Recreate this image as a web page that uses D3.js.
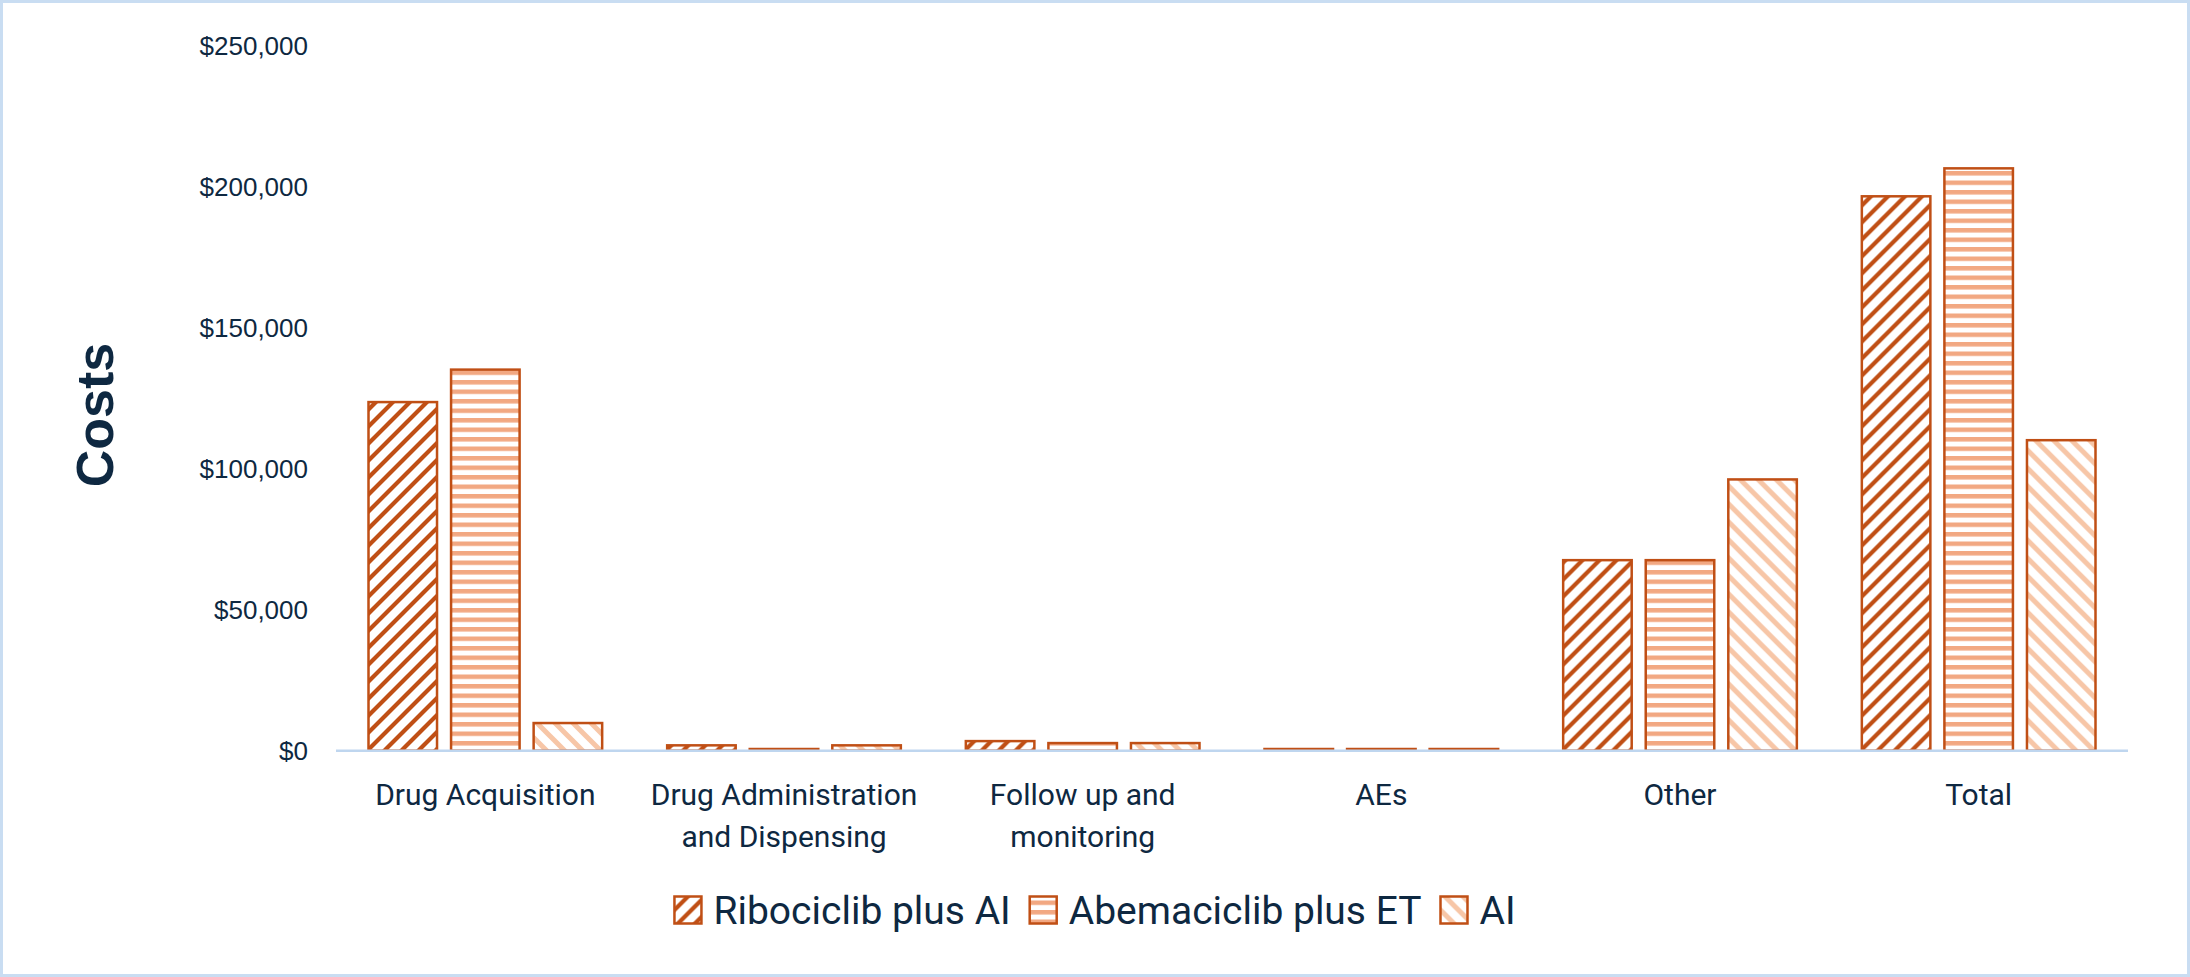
<!DOCTYPE html>
<html>
<head>
<meta charset="utf-8">
<script src="https://cdn.jsdelivr.net/npm/d3@7"></script>
<style>
  body { margin: 0; background: #fff; }
  .tick-y text { font-family: "Liberation Sans", Arial, sans-serif; font-size: 26px; fill: #0E2841; }
  .tick-x text { font-family: Roboto, sans-serif; font-size: 30px; fill: #0E2841; }
  .legend text { font-family: Roboto, sans-serif; font-size: 39px; fill: #0E2841; }
</style>
</head>
<body>
<div id="chart"></div>
<script>
// data
var categories = ["Drug Acquisition", "Drug Administration and Dispensing", "Follow up and monitoring", "AEs", "Other", "Total"];
var series = ["Ribociclib plus AI", "Abemaciclib plus ET", "AI"];
var ribociclibAI = [123500, 1900, 3400, 600, 67500, 196400];
var abemaciclibET = [135000, 600, 2700, 600, 67500, 206300];
var aiOnly = [9800, 1900, 2700, 600, 96100, 110000];
var yTicks = [0, 50000, 100000, 150000, 200000, 250000];

var values = [ribociclibAI, abemaciclibET, aiOnly];

/*
 * layout
 */
var width = 2190;
var height = 977;
var plot = { left: 336, right: 2128, top: 45, bottom: 750.7 };
var barStroke = "#C04F15";
var textColor = "#0E2841";

var svg = d3.select("#chart").append("svg")
  .attr("width", width)
  .attr("height", height);

// excel-like fill patterns
var defs = svg.append("defs");
var ribo = defs.append("pattern").attr("id", "pat-0")
  .attr("patternUnits", "userSpaceOnUse").attr("width", 17).attr("height", 17);
ribo.append("rect").attr("width", 17).attr("height", 17).attr("fill", "#fff");
ribo.append("path").attr("d", "M-4.25,4.25L4.25,-4.25M0,17L17,0M12.75,21.25L21.25,12.75")
  .attr("stroke", "#C04F15").attr("stroke-width", 4.2);

var abema = defs.append("pattern").attr("id", "pat-1")
  .attr("patternUnits", "userSpaceOnUse").attr("width", 10).attr("height", 9.5);
abema.append("rect").attr("width", 10).attr("height", 9.5).attr("fill", "#fff");
abema.append("rect").attr("width", 10).attr("height", 4.5).attr("fill", "#F2A882");

var ai = defs.append("pattern").attr("id", "pat-2")
  .attr("patternUnits", "userSpaceOnUse").attr("width", 18).attr("height", 18);
ai.append("rect").attr("width", 18).attr("height", 18).attr("fill", "#fff");
ai.append("path").attr("d", "M-4.5,13.5L4.5,22.5M0,0L18,18M13.5,-4.5L22.5,4.5")
  .attr("stroke", "#F7C6A7").attr("stroke-width", 5);

// outer frame
svg.append("rect")
  .attr("x", 1.5).attr("y", 1.5)
  .attr("width", width - 3).attr("height", height - 3)
  .attr("fill", "#fff")
  .attr("stroke", "#C9DDF2")
  .attr("stroke-width", 3);

/*
 * scales
 */
var x0 = d3.scaleBand()
  .domain(categories)
  .range([plot.left, plot.right]);

var x1 = d3.scaleBand()
  .domain(series)
  .range([32.5, x0.bandwidth() - 32.5])
  .paddingInner(0.17);

var y = d3.scaleLinear()
  .domain([0, 250000])
  .range([plot.bottom, plot.top]);

// y axis, labels only
var yAxis = svg.append("g")
  .attr("class", "tick-y")
  .attr("transform", "translate(" + plot.left + ",0)")
  .call(d3.axisLeft(y).tickValues(yTicks).tickSize(0).tickPadding(28).tickFormat(d3.format("$,")));
yAxis.select(".domain").remove();
yAxis.selectAll(".tick text").attr("dy", "0.35em").attr("fill", textColor);

// bars
var groups = svg.append("g").selectAll("g")
  .data(categories)
  .join("g")
    .attr("transform", function(d) { return "translate(" + x0(d) + ",0)"; });

groups.selectAll("rect")
  .data(function(d, i) {
    return series.map(function(s, j) { return { series: s, idx: j, value: values[j][i] }; });
  })
  .join("rect")
    .attr("x", function(d) { return x1(d.series); })
    .attr("y", function(d) { return y(d.value); })
    .attr("width", x1.bandwidth())
    .attr("height", function(d) { return y(0) - y(d.value); })
    .attr("fill", function(d) { return "url(#pat-" + d.idx + ")"; })
    .attr("stroke", barStroke)
    .attr("stroke-width", 2.5);

// x axis with wrapped labels
var xAxis = svg.append("g")
  .attr("class", "tick-x")
  .attr("transform", "translate(0," + plot.bottom + ")")
  .call(d3.axisBottom(x0).tickSize(0).tickPadding(33));
xAxis.select(".domain").remove();
xAxis.append("line")
  .attr("x1", plot.left).attr("x2", plot.right)
  .attr("y1", 0).attr("y2", 0)
  .attr("stroke", "#BFD6EF")
  .attr("stroke-width", 2.5);

var wrap = function(sel, maxWidth) {
  sel.each(function() {
    var text = d3.select(this);
    var words = text.text().split(" ");
    var yy = text.attr("y"), dy = text.attr("dy");
    var lines = [], line = [];
    text.text(null);
    var tspan = text.append("tspan").attr("x", 0).attr("y", yy).attr("dy", dy);
    words.forEach(function(w) {
      line.push(w);
      tspan.text(line.join(" "));
      if (tspan.node().getComputedTextLength() > maxWidth && line.length > 1) {
        line.pop();
        lines.push(line.join(" "));
        line = [w];
      }
    });
    lines.push(line.join(" "));
    text.text(null);
    lines.forEach(function(l, k) {
      text.append("tspan").attr("x", 0).attr("y", yy)
        .attr("dy", k === 0 ? dy : (0.71 + k * 1.4) + "em")
        .text(l);
    });
  });
};
xAxis.selectAll(".tick text").attr("fill", textColor).call(wrap, 285);

// y title
svg.append("text")
  .attr("transform", "translate(95,415) rotate(-90)")
  .attr("text-anchor", "middle")
  .attr("dominant-baseline", "central")
  .attr("font-family", "'Liberation Sans', Arial, sans-serif")
  .attr("font-weight", "bold")
  .attr("font-size", 52)
  .attr("fill", textColor)
  .text("Costs");

// legend, centred on the frame
var legend = svg.append("g").attr("class", "legend");
var items = legend.selectAll("g")
  .data(series)
  .join("g");
items.append("rect")
  .attr("x", 0).attr("y", -13.5)
  .attr("width", 27).attr("height", 27)
  .attr("fill", function(d, i) { return "url(#pat-" + i + ")"; })
  .attr("stroke", barStroke)
  .attr("stroke-width", 2.5);
items.append("text")
  .attr("x", 39)
  .attr("dy", "0.35em")
  .text(function(d) { return d; });

var offset = 0;
items.each(function() {
  var g = d3.select(this);
  g.attr("transform", "translate(" + offset + ",0)");
  offset += 39 + g.select("text").node().getComputedTextLength() + 19;
});
offset -= 19;
legend.attr("transform", "translate(" + (width / 2 - offset / 2) + ",910)");
</script>
</body>
</html>
